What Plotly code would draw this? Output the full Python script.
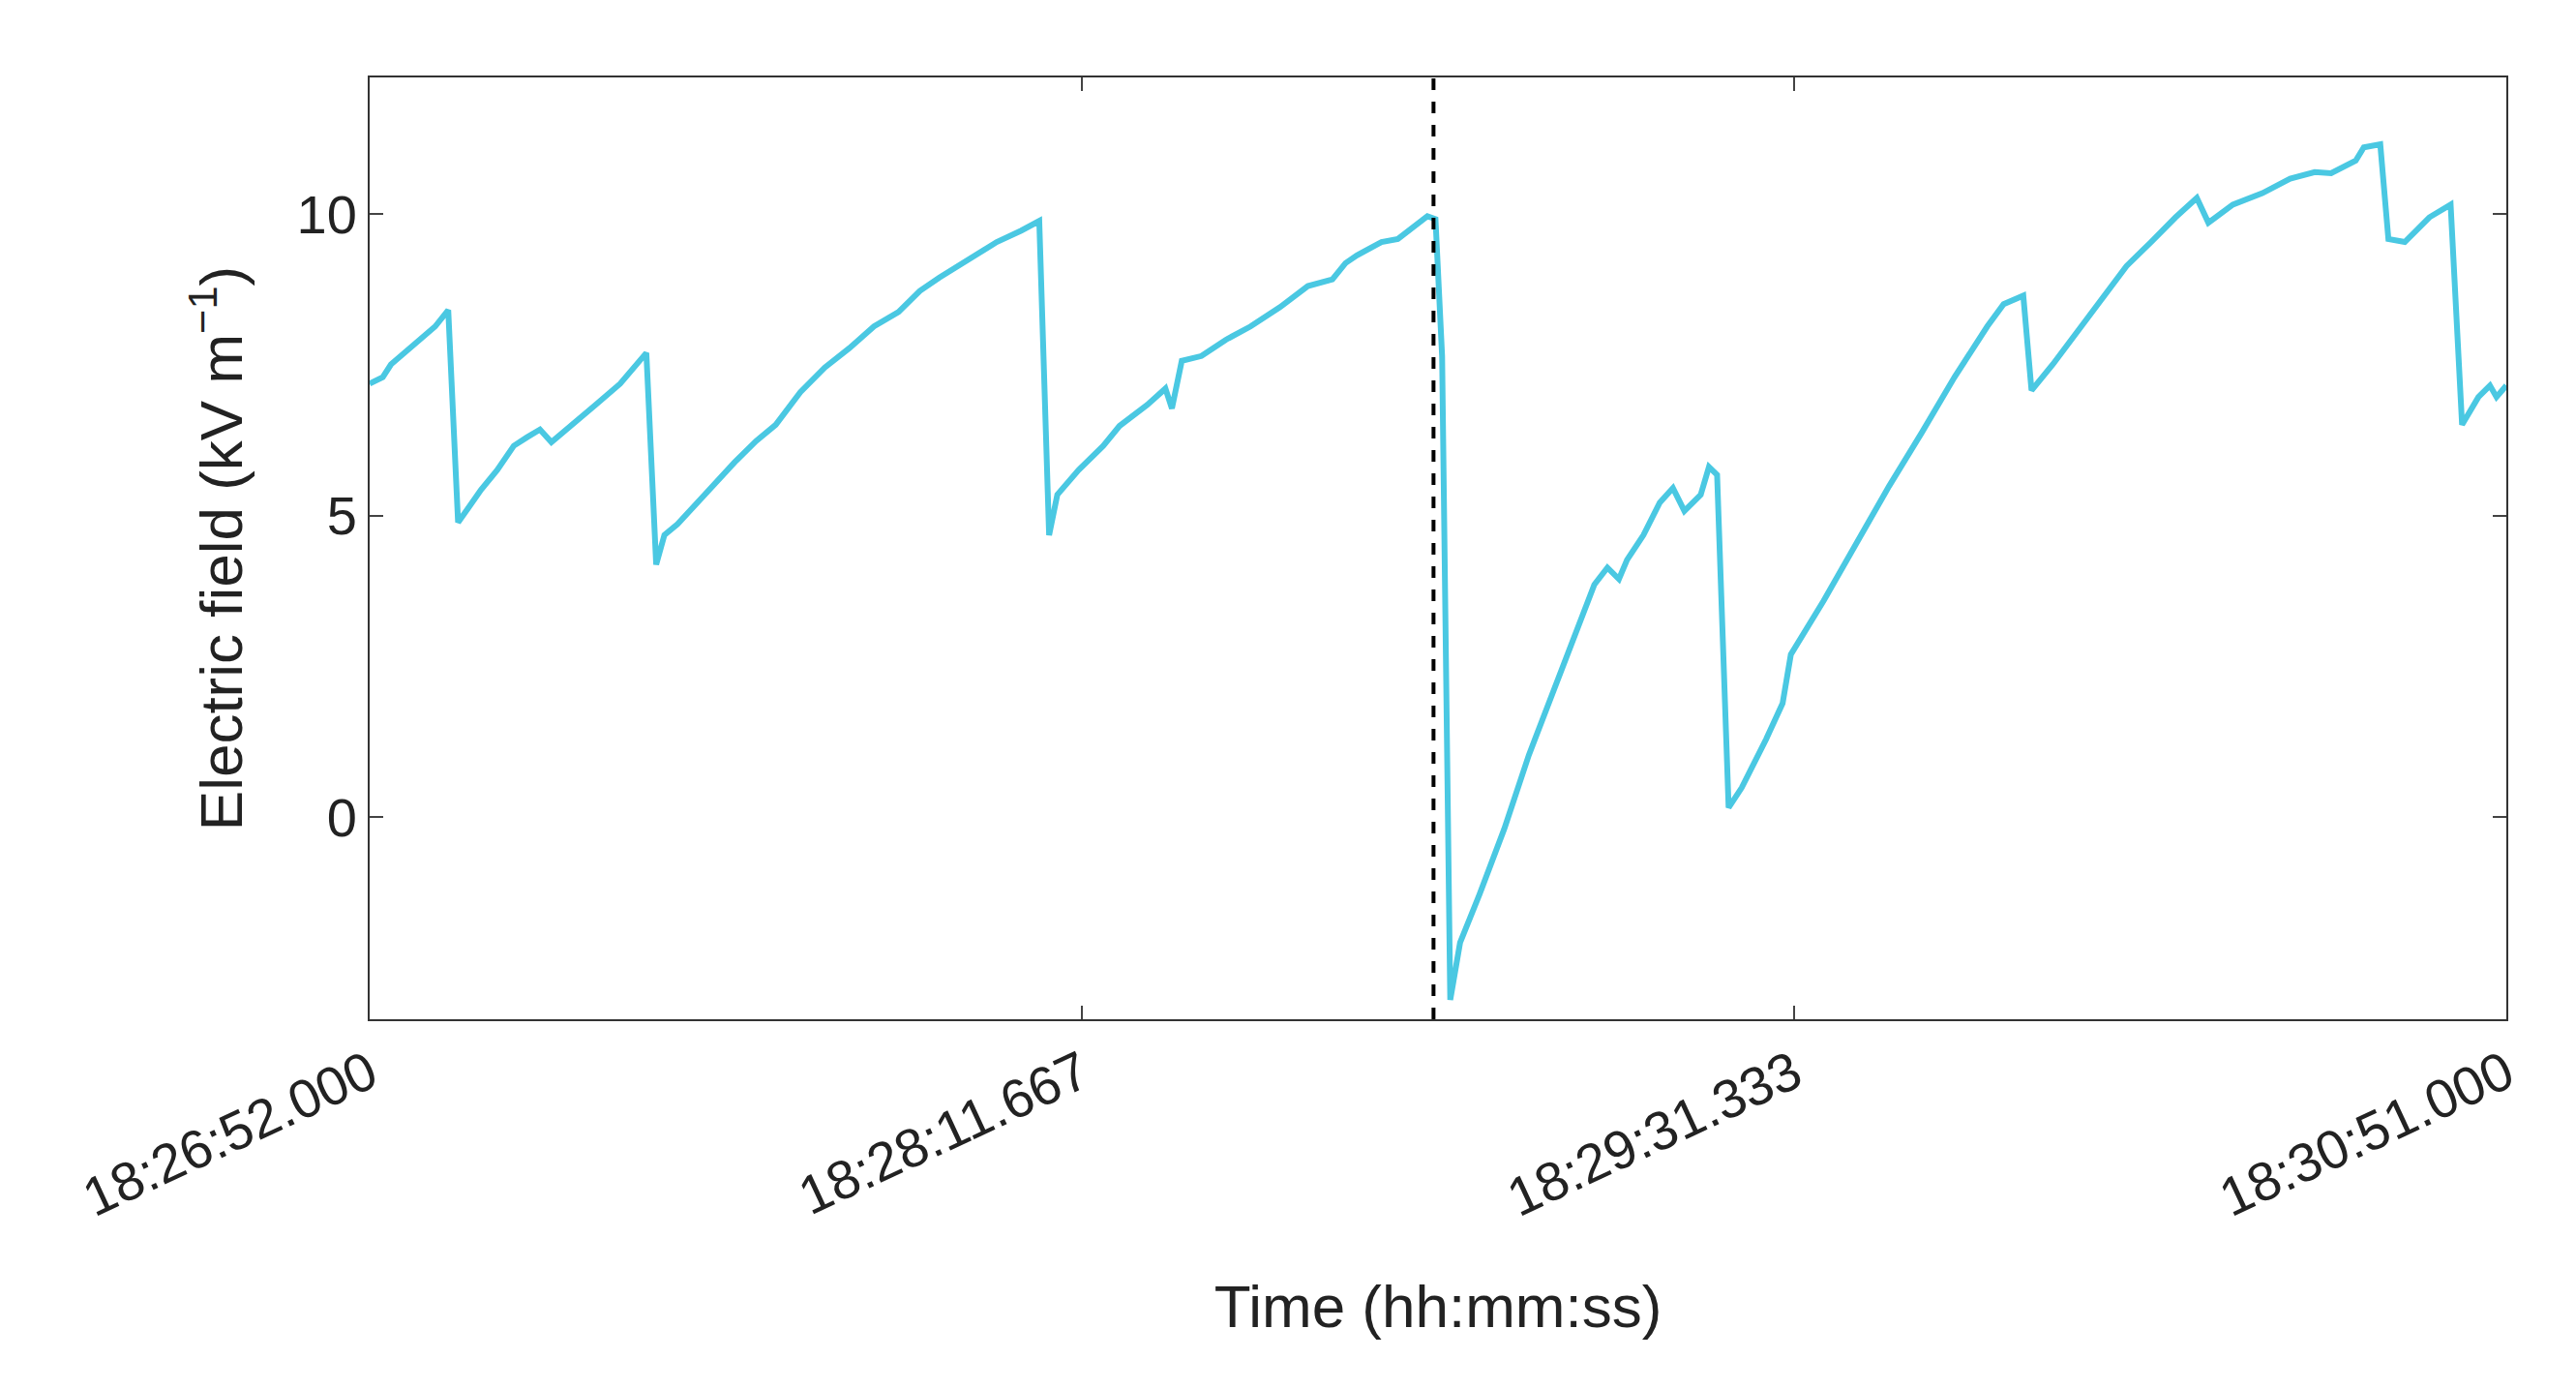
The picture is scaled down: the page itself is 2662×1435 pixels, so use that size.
import plotly.graph_objects as go

px_x = [222,230,235,250,262,270,276,283,290,300,310,318,326,333,345,360,375,385,391,397,402,410,420,432,445,458,470,485,500,515,530,545,558,570,578,590,605,620,631,637,642,655,670,680,697,708,712,718,730,745,760,778,795,810,818,825,840,850,860,868,873,877,882,888,900,915,930,945,960,970,978,985,990,1000,1010,1018,1025,1035,1040,1045,1052,1060,1075,1085,1090,1110,1130,1150,1170,1190,1210,1220,1232,1237,1250,1265,1280,1295,1310,1325,1338,1345,1360,1378,1395,1410,1420,1435,1440,1450,1455,1465,1480,1493,1500,1510,1517,1521,1527]
px_y = [232,228,220,207,197,187,317,307,297,285,270,265,260,268,257,245,232,220,213,343,325,318,307,295,280,267,257,237,222,210,197,188,175,167,162,155,145,138,132,325,300,285,270,258,245,235,247,218,215,205,197,185,172,168,158,153,145,143,135,129,131,215,610,575,545,505,460,420,380,355,345,352,340,325,305,296,310,300,283,288,492,480,450,428,398,365,330,295,262,228,197,183,178,236,220,200,180,160,145,130,118,133,122,115,106,102,103,95,87,85,143,145,130,122,257,240,233,240,233]
# time in seconds after 18:26:52.000, field in kV/m
time_s = [round((p - 222) / 5.4603, 2) for p in px_x]
field = [round((498 - p) / 37.0, 2) for p in px_y]

tick_vals = [0, 79.667, 159.333, 239]
tick_text = ["18:26:52.000", "18:28:11.667", "18:29:31.333", "18:30:51.000"]
event_t = 119.0

fig = go.Figure()
fig.add_trace(go.Scatter(x=time_s, y=field, mode="lines",
                         line=dict(color="#4ac8e2", width=6)))
fig.add_shape(type="line", x0=event_t, x1=event_t, y0=0, y1=1, yref="paper",
              line=dict(color="black", width=4, dash="dash"))
font = "Liberation Sans, Arial"
fig.update_layout(
    width=2662, height=1435, plot_bgcolor="white", paper_bgcolor="white",
    margin=dict(l=374, r=80, t=72, b=390), showlegend=False,
    font=dict(family=font, size=56, color="#222"),
)
fig.update_xaxes(range=[0, 239], tickvals=tick_vals, ticktext=tick_text,
                 tickangle=-25, ticks="inside", ticklen=14, tickwidth=2,
                 showline=True, linecolor="#333", linewidth=2, mirror="ticks",
                 showgrid=False, zeroline=False,
                 title=dict(text="Time (hh:mm:ss)", font=dict(size=62), standoff=60))
fig.update_yaxes(range=[-3.35, 12.27], tickvals=[0, 5, 10],
                 ticks="inside", ticklen=14, tickwidth=2,
                 showline=True, linecolor="#333", linewidth=2, mirror="ticks",
                 showgrid=False, zeroline=False,
                 title=dict(text="Electric field (kV m<sup>−1</sup>)", font=dict(size=62), standoff=36))
fig.write_html("out.html")
